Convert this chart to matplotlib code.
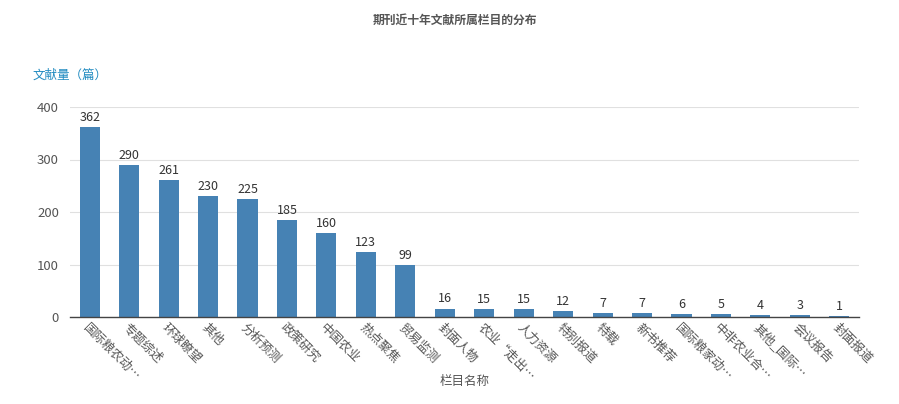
import matplotlib
matplotlib.use("Agg")
import matplotlib.pyplot as plt

plt.rcParams['font.family'] = ['Noto Sans CJK SC', 'DejaVu Sans']

categories = ["国际粮农动…", "专题综述", "环球瞭望", "其他", "分析预测", "政策研究", "中国农业",
              "热点聚焦", "贸易监测", "封面人物", "农业“走出…", "人力资源", "特别报道", "特载",
              "新书推荐", "国际粮家动…", "中非农业合…", "其他_国际…", "会议报告", "封面报道"]
values = [362, 290, 261, 230, 225, 185, 160, 123, 99, 16, 15, 15, 12, 7, 7, 6, 5, 4, 3, 1]
yticks = [0, 100, 200, 300, 400]

W, H = 899, 404
fig = plt.figure(figsize=(W / 100, H / 100), dpi=100)
ax = fig.add_axes([70 / W, (H - 317) / H, (859 - 70) / W, (317 - 107) / H])

x = range(len(categories))
ax.bar(x, values, width=0.51, color="#4682B4", zorder=3)
for xi, v in zip(x, values):
    ax.text(xi, v + 6, str(v), ha="center", va="bottom", fontsize=9, color="#333333", zorder=4)

ax.set_xlim(-0.5, len(categories) - 0.5)
ax.set_ylim(0, 400)
ax.set_yticks(yticks)
ax.set_yticklabels([str(t) for t in yticks], fontsize=9.5, color="#555555")
ax.yaxis.grid(True, color="#e0e0e0", linewidth=0.8, zorder=0)
ax.tick_params(axis="y", length=0, pad=8)
ax.tick_params(axis="x", length=0, pad=3)
ax.set_xticks(list(x))
ax.set_xticklabels(categories, rotation=-45, ha="left", va="top", rotation_mode="anchor",
                   fontsize=9, color="#555555")
for s in ["top", "right", "left"]:
    ax.spines[s].set_visible(False)
ax.spines["bottom"].set_color("#444444")
ax.spines["bottom"].set_linewidth(1.0)
ax.spines["bottom"].set_zorder(5)

fig.text(455 / W, 1 - 20 / H, "期刊近十年文献所属栏目的分布", ha="center", va="center",
         fontsize=8.5, fontweight="bold", color="#555555")
fig.text(33 / W, 1 - 75 / H, "文献量（篇）", ha="left", va="center", fontsize=9, color="#1f8ac0")
fig.text(465 / W, 1 - 381 / H, "栏目名称", ha="center", va="center", fontsize=9, color="#555555")

fig.savefig("out.png", dpi=100, facecolor="white")
